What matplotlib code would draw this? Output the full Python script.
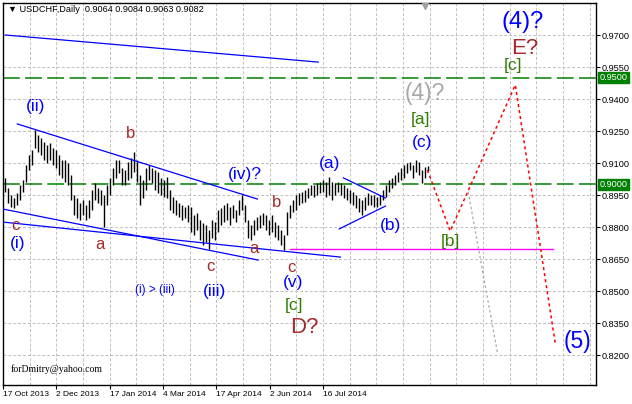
import numpy as np
import matplotlib
matplotlib.use('Agg')
import matplotlib.pyplot as plt
import matplotlib.transforms as mtransforms

# USDCHF daily bars, high / low
highs = [0.9030, 0.8983, 0.8950, 0.8936, 0.8959, 0.8997, 0.9020, 0.9091, 0.9138, 0.9161,
         0.9255, 0.9231, 0.9217, 0.9198, 0.9184, 0.9194, 0.9170, 0.9161, 0.9138, 0.9114,
         0.9114, 0.9100, 0.9044, 0.8950, 0.8936, 0.8913, 0.8927, 0.8903, 0.8927, 0.8973,
         0.9006, 0.8983, 0.8973, 0.8950, 0.8997, 0.9030, 0.9077, 0.9114, 0.9114, 0.9077,
         0.9067, 0.9105, 0.9123, 0.9152, 0.9114, 0.9044, 0.9020, 0.9077, 0.9091, 0.9077,
         0.9067, 0.9058, 0.9030, 0.9020, 0.9034, 0.8973, 0.8941, 0.8927, 0.8913, 0.8903,
         0.8894, 0.8903, 0.8894, 0.8856, 0.8866, 0.8833, 0.8819, 0.8809, 0.8786, 0.8833,
         0.8823, 0.8880, 0.8889, 0.8903, 0.8913, 0.8894, 0.8903, 0.8880, 0.8927, 0.8950,
         0.8903, 0.8833, 0.8809, 0.8833, 0.8847, 0.8856, 0.8866, 0.8856, 0.8833, 0.8856,
         0.8823, 0.8809, 0.8786, 0.8763, 0.8870, 0.8903, 0.8927, 0.8950, 0.8959, 0.8964,
         0.8973, 0.8983, 0.8997, 0.8997, 0.9006, 0.9011, 0.9020, 0.9011, 0.9034, 0.9011,
         0.9006, 0.9011, 0.9006, 0.8997, 0.8983, 0.8973, 0.8964, 0.8950, 0.8936, 0.8927,
         0.8941, 0.8959, 0.8950, 0.8950, 0.8941, 0.8950, 0.8973, 0.8997, 0.9020, 0.9030,
         0.9044, 0.9058, 0.9077, 0.9091, 0.9100, 0.9105, 0.9091, 0.9114, 0.9105, 0.9067,
         0.9081, 0.9084]
lows = [0.8964, 0.8913, 0.8894, 0.8889, 0.8903, 0.8927, 0.8964, 0.9011, 0.9067, 0.9091,
        0.9170, 0.9152, 0.9138, 0.9114, 0.9100, 0.9114, 0.9091, 0.9077, 0.9044, 0.9030,
        0.9011, 0.8997, 0.8927, 0.8856, 0.8842, 0.8833, 0.8856, 0.8833, 0.8842, 0.8880,
        0.8927, 0.8913, 0.8903, 0.8800, 0.8903, 0.8950, 0.8997, 0.9030, 0.9053, 0.8997,
        0.8997, 0.9020, 0.9030, 0.9058, 0.9011, 0.8903, 0.8936, 0.8973, 0.9020, 0.9006,
        0.8973, 0.8959, 0.8950, 0.8941, 0.8936, 0.8880, 0.8866, 0.8856, 0.8847, 0.8833,
        0.8842, 0.8823, 0.8777, 0.8763, 0.8786, 0.8739, 0.8716, 0.8730, 0.8697, 0.8748,
        0.8739, 0.8777, 0.8809, 0.8823, 0.8833, 0.8809, 0.8842, 0.8823, 0.8856, 0.8880,
        0.8823, 0.8748, 0.8739, 0.8763, 0.8786, 0.8795, 0.8809, 0.8786, 0.8763, 0.8777,
        0.8753, 0.8739, 0.8716, 0.8692, 0.8763, 0.8842, 0.8870, 0.8880, 0.8903, 0.8913,
        0.8917, 0.8936, 0.8950, 0.8941, 0.8950, 0.8959, 0.8964, 0.8941, 0.8950, 0.8927,
        0.8950, 0.8964, 0.8950, 0.8936, 0.8927, 0.8913, 0.8903, 0.8889, 0.8870, 0.8856,
        0.8880, 0.8903, 0.8903, 0.8894, 0.8894, 0.8903, 0.8927, 0.8941, 0.8964, 0.8983,
        0.8997, 0.9011, 0.9020, 0.9030, 0.9053, 0.9067, 0.9030, 0.9058, 0.9044, 0.9006,
        0.9030, 0.9063]

last_ohlc = [0.9064, 0.9084, 0.9063, 0.9082]

price_ticks = [0.9700, 0.9550, 0.9400, 0.9250, 0.9100, 0.8950,
               0.8800, 0.8650, 0.8500, 0.8350, 0.8200]
date_labels = ['17 Oct 2013', '2 Dec 2013', '17 Jan 2014', '4 Mar 2014',
               '17 Apr 2014', '2 Jun 2014', '16 Jul 2014']
levels = [0.9500, 0.9000]

# trend lines (bar, price) -> (bar, price)
blue_lines = [((0, 0.9700), (104.3, 0.9573)),
              ((4, 0.9283), (84, 0.8931)),
              ((-0.7, 0.8884), (84.3, 0.8645)),
              ((-0.7, 0.8823), (111.7, 0.8659)),
              ((112.7, 0.9030), (126.7, 0.8936)),
              ((111.3, 0.8791), (126.7, 0.8898))]
magenta_line = ((95, 0.8697), (182.7, 0.8697))

# forecast path
red_x = [140.7, 148.3, 170, 183.3]
red_y = [0.9067, 0.8781, 0.9466, 0.8256]
gray_x = [154.3, 164]
gray_y = [0.8964, 0.8214]

BLUE = '#0000ff'
BROWN = '#a52a2a'
GREEN = '#2f7d00'
GRAY = '#a8a8a8'

wave_labels = [
    ('(ii)', 10, 0.9367, BLUE, 12.5),
    ('c', 3.3, 0.8805, BROWN, 12),
    ('(i)', 4, 0.8725, BLUE, 12.5),
    ('a', 31.7, 0.8716, BROWN, 12),
    ('b', 41.7, 0.9236, BROWN, 12),
    ('(iv)?', 80, 0.9044, BLUE, 12.5),
    ('b', 90.3, 0.8913, BROWN, 12),
    ('a', 83, 0.8697, BROWN, 12),
    ('c', 68.3, 0.8613, BROWN, 12),
    ('(i) > (iii)', 50, 0.8505, BLUE, 8.5),
    ('(iii)', 69.7, 0.8500, BLUE, 12.5),
    ('c', 95.3, 0.8608, BROWN, 12),
    ('(v)', 96, 0.8542, BLUE, 12.5),
    ('[c]', 96.3, 0.8434, GREEN, 12.5),
    ('D?', 99.7, 0.8327, BROWN, 16),
    ('(a)', 108, 0.9100, BLUE, 12.5),
    ('(b)', 128.3, 0.8805, BLUE, 12.5),
    ('(c)', 139, 0.9194, BLUE, 12.5),
    ('[a]', 138.3, 0.9302, GREEN, 12.5),
    ('(4)?', 139.7, 0.9428, GRAY, 16.5),
    ('[b]', 148.3, 0.8734, GREEN, 12.5),
    ('(4)?', 172.3, 0.9761, BLUE, 17),
    ('E?', 173.3, 0.9639, BROWN, 16),
    ('[c]', 169.3, 0.9555, GREEN, 12.5),
    ('(5)', 190.7, 0.8261, BLUE, 16.5),
]

plt.rcParams['font.family'] = ['Liberation Sans', 'DejaVu Sans']

fig = plt.figure(figsize=(6.32, 4.04), dpi=100)
ax = fig.add_axes([3 / 632, 19 / 404, 593 / 632, 382 / 404])

x = np.arange(len(highs))
ax.vlines(x, lows, highs, color='black', lw=1.0, zorder=3)

ax.set_xlim(-0.77, 196.9)
ax.set_ylim(0.80594, 0.985)

# axes, grid
date_pos = -0.77 + np.arange(len(date_labels)) * 160 / 9
grid_pos = -0.77 + np.arange(1, 23) * 80 / 9
ax.set_xticks(date_pos)
ax.set_xticklabels(date_labels)
ax.set_xticks(grid_pos, minor=True)
for lbl in ax.get_xticklabels():
    lbl.set_horizontalalignment('left')
ax.tick_params(axis='x', which='major', direction='out', length=3, width=0.8,
               pad=1.5, labelsize=6.0)
ax.tick_params(axis='x', which='minor', length=0)

ax.yaxis.tick_right()
ax.set_yticks(price_ticks)
ax.set_yticklabels(['%.4f' % p for p in price_ticks])
ax.tick_params(axis='y', direction='out', length=3, width=0.8, pad=1, labelsize=6.6)

ax.set_axisbelow(True)
ax.grid(True, which='both', axis='x', color='#c0c0c0', lw=0.7, ls=(0, (3, 2)))
ax.grid(True, which='major', axis='y', color='#c0c0c0', lw=0.7, ls=(0, (3, 2)))
for sp in ax.spines.values():
    sp.set_linewidth(1.0)
    sp.set_color('black')

# horizontal levels with price tags
ytrans = mtransforms.blended_transform_factory(ax.transAxes, ax.transData)
for lv in levels:
    ax.axhline(lv, color='#008000', lw=1.1, ls=(0, (11, 3.5)), zorder=2)
    ax.text(1.006, lv, '%.4f' % lv, transform=ytrans, color='white', fontsize=6.6,
            va='center', ha='left',
            bbox=dict(facecolor='#008000', edgecolor='#008000', pad=0.8))

# trend lines
for (x0, y0), (x1, y1) in blue_lines:
    ax.plot([x0, x1], [y0, y1], color=BLUE, lw=0.9, zorder=4)
ax.plot([magenta_line[0][0], magenta_line[1][0]],
        [magenta_line[0][1], magenta_line[1][1]], color='#ff00ff', lw=1.0, zorder=4)

# forecast
ax.plot(red_x, red_y, color='#ff0000', lw=1.1, ls=(0, (2, 2)), zorder=4)
ax.plot(gray_x, gray_y, color=GRAY, lw=0.9, ls=(0, (2, 2)), zorder=4)

# wave labels
for txt, bx, py, col, fs in wave_labels:
    ax.text(bx, py, txt, color=col, fontsize=fs, ha='center', va='center', zorder=5)

# header and shift marker
ax.text(0.0084, 0.982,
        '\u25bc USDCHF,Daily  ' + ' '.join('%.4f' % v for v in last_ohlc),
        transform=ax.transAxes, fontsize=6.6, va='center', ha='left')
ax.plot([140], [0.9836], marker='v', ms=5, color='#a0a0a0', clip_on=False, zorder=5)

ax.text(0.0135, 0.042, 'forDmitry@yahoo.com', transform=ax.transAxes,
        family='Liberation Serif', fontsize=7, va='center', ha='left')

fig.savefig('out.png', dpi=100)
